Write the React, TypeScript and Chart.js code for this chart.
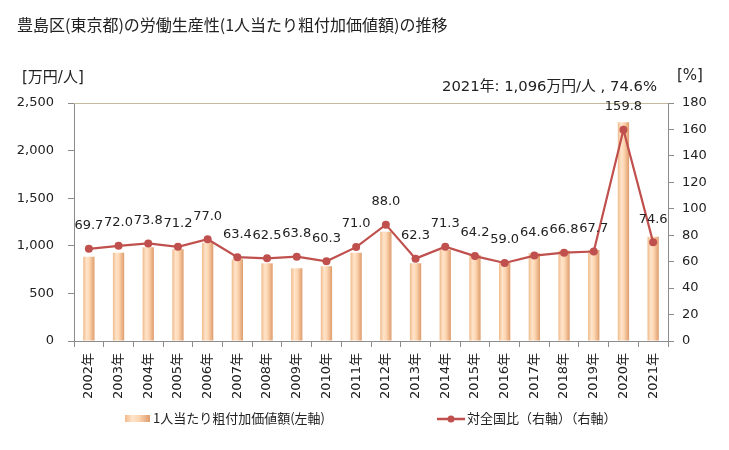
import React, { useEffect, useRef } from "react";
import { Chart, registerables } from "chart.js";

Chart.register(...registerables);

const years = [
  "2002年", "2003年", "2004年", "2005年", "2006年", "2007年", "2008年", "2009年", "2010年", "2011年",
  "2012年", "2013年", "2014年", "2015年", "2016年", "2017年", "2018年", "2019年", "2020年", "2021年",
];
const valuePerWorker = [885, 928, 984, 963, 1033, 858, 816, 764, 785, 928, 1148, 816, 956, 903, 822, 921, 948, 956, 2297, 1096];
const nationalRatio = [69.7, 72.0, 73.8, 71.2, 77.0, 63.4, 62.5, 63.8, 60.3, 71.0, 88.0, 62.3, 71.3, 64.2, 59.0, 64.6, 66.8, 67.7, 159.8, 74.6];
const leftAxis = { min: 0, max: 2500, step: 500 };
const rightAxis = { min: 0, max: 180, step: 20 };

const titleText = "豊島区(東京都)の労働生産性(1人当たり粗付加価値額)の推移";
const leftUnit = "[万円/人]";
const rightUnit = "[%]";
const annotationText = "2021年: 1,096万円/人 , 74.6%";
const barLabel = "1人当たり粗付加価値額(左軸)";
const lineLabel = "対全国比（右軸）（右軸）";

const JP = '"Noto Sans CJK JP", "Noto Sans", sans-serif';
const NUM = '"DejaVu Sans", "Noto Sans CJK JP", sans-serif';
const LINE_COLOR = "#C0504D";
const AXIS_COLOR = "#8C8C8C";
const TEXT_COLOR = "#222222";
const BAR_PERCENT = 0.38;

function barGradient(ctx: CanvasRenderingContext2D, x0: number, w: number) {
  const g = ctx.createLinearGradient(x0, 0, x0 + w, 0);
  g.addColorStop(0, "#F0BA8A");
  g.addColorStop(0.3, "#FFE4CA");
  g.addColorStop(0.55, "#FDD6B2");
  g.addColorStop(1, "#DE9C6C");
  return g;
}

function barColor(c: any) {
  const chart = c.chart;
  const xScale = chart && chart.scales ? chart.scales.x : null;
  if (!xScale || c.type !== "data" || !chart.chartArea) return "#FAD0A8";
  const x = xScale.getPixelForValue(c.dataIndex);
  const w = (xScale.width / years.length) * BAR_PERCENT;
  return barGradient(chart.ctx, x - w / 2, w);
}

const customPlugin = {
  id: "customDecor",
  beforeDatasetsDraw(chart: any) {
    const { ctx, chartArea } = chart;
    ctx.save();
    ctx.strokeStyle = "#C4B99A";
    ctx.lineWidth = 1;
    ctx.beginPath();
    ctx.moveTo(chartArea.left, chartArea.top + 0.5);
    ctx.lineTo(chartArea.right, chartArea.top + 0.5);
    ctx.stroke();
    ctx.restore();
  },
  afterDatasetsDraw(chart: any) {
    const { ctx } = chart;
    const meta = chart.getDatasetMeta(1);
    ctx.save();
    ctx.font = `13px ${NUM}`;
    ctx.fillStyle = TEXT_COLOR;
    ctx.textAlign = "center";
    ctx.textBaseline = "middle";
    meta.data.forEach((pt: any, i: number) => {
      ctx.fillText(nationalRatio[i].toFixed(1), pt.x, pt.y - 23);
    });
    ctx.restore();
  },
  afterDraw(chart: any) {
    const { ctx } = chart;
    ctx.save();
    ctx.fillStyle = TEXT_COLOR;
    ctx.textBaseline = "middle";
    ctx.textAlign = "left";
    ctx.font = `16px ${JP}`;
    ctx.fillText(titleText, 17, 25);
    ctx.font = `15px ${NUM}`;
    ctx.fillText(leftUnit, 22, 78);
    ctx.fillText(rightUnit, 677, 76);
    ctx.font = `14.8px ${NUM}`;
    ctx.textAlign = "right";
    ctx.fillText(annotationText, 657, 87);

    // legend
    ctx.textAlign = "left";
    ctx.font = `13px ${JP}`;
    ctx.fillStyle = barGradient(ctx, 125, 25);
    ctx.fillRect(125, 415, 25, 7);
    ctx.fillStyle = TEXT_COLOR;
    ctx.fillText(barLabel, 153, 418);
    ctx.strokeStyle = LINE_COLOR;
    ctx.lineWidth = 2.5;
    ctx.beginPath();
    ctx.moveTo(437, 419);
    ctx.lineTo(465, 419);
    ctx.stroke();
    ctx.fillStyle = LINE_COLOR;
    ctx.beginPath();
    ctx.arc(451, 419, 3.5, 0, Math.PI * 2);
    ctx.fill();
    ctx.fillStyle = TEXT_COLOR;
    ctx.fillText(lineLabel, 467, 418);
    ctx.restore();
  },
};

export default function App() {
  const canvasRef = useRef<HTMLCanvasElement | null>(null);

  useEffect(() => {
    document.body.style.margin = "0";
    const canvas = canvasRef.current;
    if (!canvas) return;
    const chart = new Chart(canvas, {
      type: "bar",
      data: {
        labels: years,
        datasets: [
          {
            type: "bar",
            label: barLabel,
            data: valuePerWorker,
            yAxisID: "y",
            backgroundColor: barColor,
            borderWidth: 0,
            barPercentage: BAR_PERCENT,
            categoryPercentage: 1,
            order: 2,
          },
          {
            type: "line",
            label: lineLabel,
            data: nationalRatio,
            yAxisID: "y1",
            borderColor: LINE_COLOR,
            backgroundColor: LINE_COLOR,
            borderWidth: 2.2,
            pointRadius: 4,
            pointBackgroundColor: LINE_COLOR,
            pointBorderWidth: 0,
            tension: 0,
            order: 1,
          },
        ],
      },
      options: {
        responsive: false,
        animation: false,
        layout: { padding: { top: 103, left: 0, right: 0, bottom: 0 } },
        plugins: {
          legend: { display: false },
          tooltip: { enabled: false },
          title: { display: false },
        },
        scales: {
          x: {
            offset: true,
            grid: {
              offset: true,
              drawOnChartArea: false,
              drawTicks: true,
              tickLength: 6,
              color: AXIS_COLOR,
            },
            border: { color: AXIS_COLOR },
            ticks: {
              autoSkip: false,
              minRotation: 90,
              maxRotation: 90,
              padding: 6,
              color: TEXT_COLOR,
              font: { family: NUM, size: 13 },
            },
            afterFit: (s: any) => {
              s.height = 109;
            },
          },
          y: {
            position: "left",
            min: leftAxis.min,
            max: leftAxis.max,
            grid: { drawOnChartArea: false, tickLength: 6, color: AXIS_COLOR },
            border: { color: AXIS_COLOR },
            ticks: {
              stepSize: leftAxis.step,
              padding: 14,
              color: TEXT_COLOR,
              font: { family: NUM, size: 13 },
              callback: (v: any) => Number(v).toLocaleString("en-US"),
            },
            afterFit: (s: any) => {
              s.width = 74;
            },
          },
          y1: {
            position: "right",
            min: rightAxis.min,
            max: rightAxis.max,
            grid: { drawOnChartArea: false, tickLength: 6, color: AXIS_COLOR },
            border: { color: AXIS_COLOR },
            ticks: {
              stepSize: rightAxis.step,
              padding: 8,
              color: TEXT_COLOR,
              font: { family: NUM, size: 13 },
            },
            afterFit: (s: any) => {
              s.width = 61;
            },
          },
        },
      },
      plugins: [customPlugin],
    });
    return () => chart.destroy();
  }, []);

  return (
    <div style={{ position: "absolute", left: 0, top: 0, width: 729, height: 450 }}>
      <canvas ref={canvasRef} width={729} height={450} style={{ width: 729, height: 450 }} />
    </div>
  );
}
